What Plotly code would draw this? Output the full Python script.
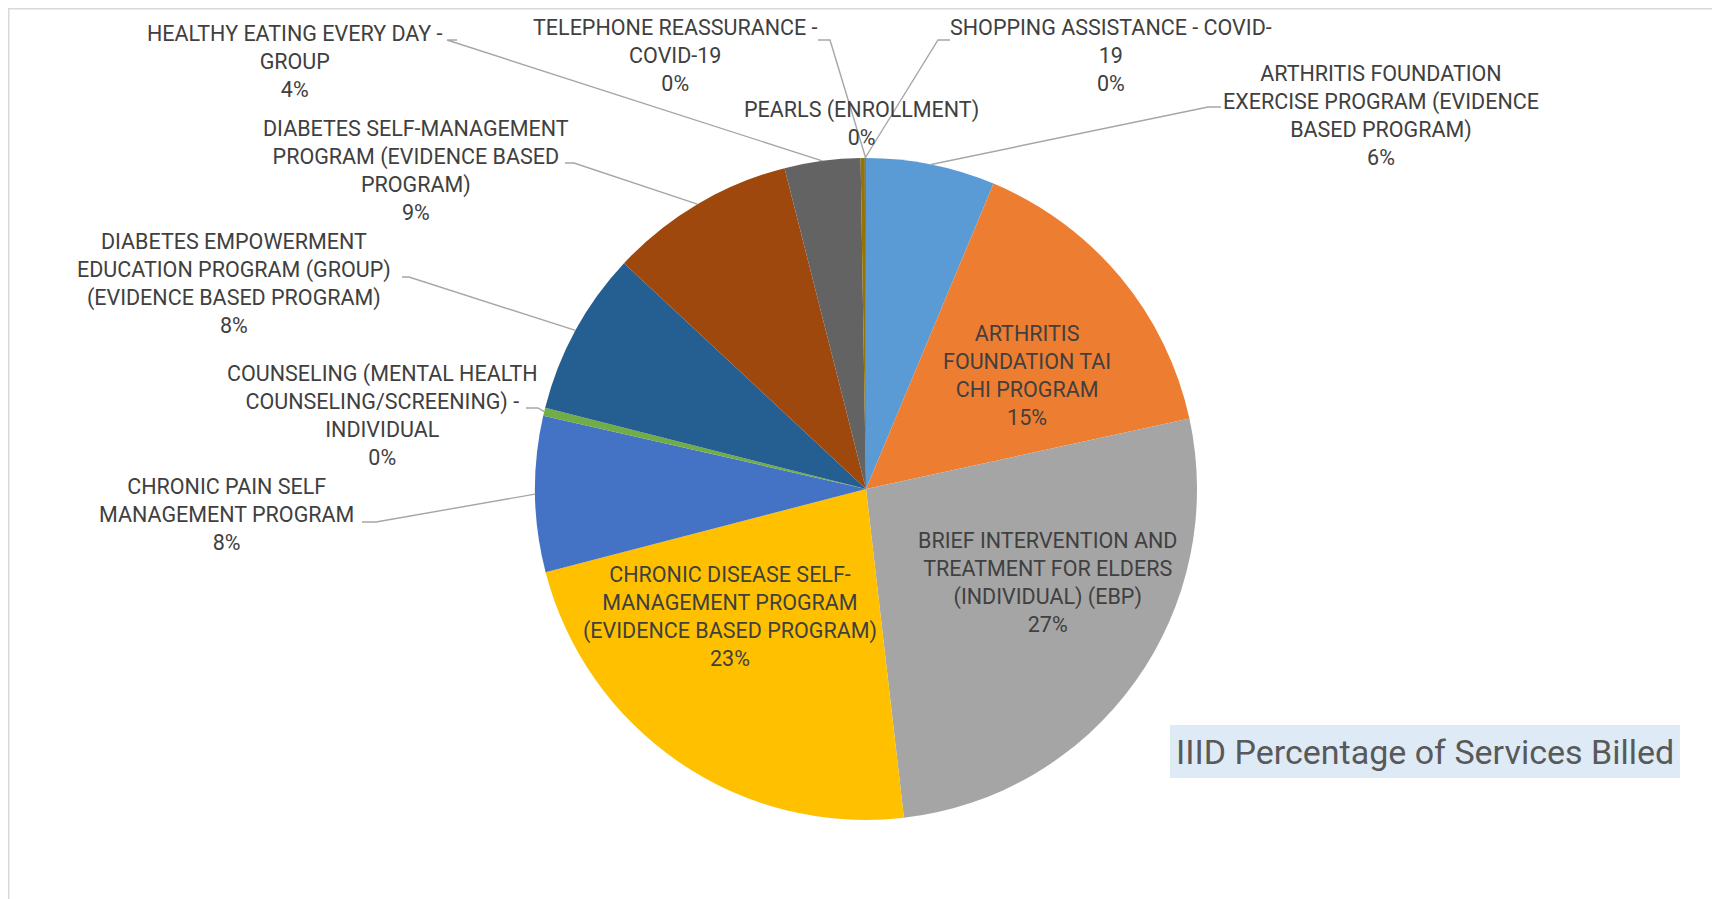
import math
import plotly.graph_objects as go

# ---------------- data ----------------
categories = [
    "ARTHRITIS FOUNDATION EXERCISE PROGRAM (EVIDENCE BASED PROGRAM)",
    "ARTHRITIS FOUNDATION TAI CHI PROGRAM",
    "BRIEF INTERVENTION AND TREATMENT FOR ELDERS (INDIVIDUAL) (EBP)",
    "CHRONIC DISEASE SELF-MANAGEMENT PROGRAM (EVIDENCE BASED PROGRAM)",
    "CHRONIC PAIN SELF MANAGEMENT PROGRAM",
    "COUNSELING (MENTAL HEALTH COUNSELING/SCREENING) - INDIVIDUAL",
    "DIABETES EMPOWERMENT EDUCATION PROGRAM (GROUP) (EVIDENCE BASED PROGRAM)",
    "DIABETES SELF-MANAGEMENT PROGRAM (EVIDENCE BASED PROGRAM)",
    "HEALTHY EATING EVERY DAY - GROUP",
    "PEARLS (ENROLLMENT)",
    "SHOPPING ASSISTANCE - COVID-19",
    "TELEPHONE REASSURANCE - COVID-19",
]
values = [6.3, 15.3, 26.6, 22.8, 7.6, 0.4, 8.0, 9.1, 3.7, 0.2, 0.03, 0.03]

# wrapped label text as shown on the chart
label_lines = [
    "ARTHRITIS FOUNDATION<br>EXERCISE PROGRAM (EVIDENCE<br>BASED PROGRAM)",
    "ARTHRITIS<br>FOUNDATION TAI<br>CHI PROGRAM",
    "BRIEF INTERVENTION AND<br>TREATMENT FOR ELDERS<br>(INDIVIDUAL) (EBP)",
    "CHRONIC DISEASE SELF-<br>MANAGEMENT PROGRAM<br>(EVIDENCE BASED PROGRAM)",
    "CHRONIC PAIN SELF<br>MANAGEMENT PROGRAM",
    "COUNSELING (MENTAL HEALTH<br>COUNSELING/SCREENING) -<br>INDIVIDUAL",
    "DIABETES EMPOWERMENT<br>EDUCATION PROGRAM (GROUP)<br>(EVIDENCE BASED PROGRAM)",
    "DIABETES SELF-MANAGEMENT<br>PROGRAM (EVIDENCE BASED<br>PROGRAM)",
    "HEALTHY EATING EVERY DAY -<br>GROUP",
    "PEARLS (ENROLLMENT)",
    "SHOPPING ASSISTANCE - COVID-<br>19",
    "TELEPHONE REASSURANCE -<br>COVID-19",
]

title_text = "IIID Percentage of Services Billed"

# ---------------- style / layout ----------------
colors = ["#5B9BD5", "#ED7D31", "#A5A5A5", "#FFC000", "#4472C4", "#70AD47",
          "#255E91", "#9E480E", "#636363", "#997300", "#264478", "#43682B"]

OFF = 8                 # page body margin; layout below is in screen px
W, H = 1720 - OFF, 899 - OFF
CX, CY, R = 866, 489, 331  # pie centre / radius in screen px
FONT = "Roboto, Arial, sans-serif"
TXT = "#404040"
LEADER = "#A6A6A6"

# label placement (screen px): text block centre, elbow point, end point
label_pos = [
    dict(c=(1381, 115), elbow=(1208, 107), end=(1221, 107)),
    dict(c=(1027, 375)),
    dict(c=(1047, 582)),
    dict(c=(730, 616)),
    dict(c=(226, 514), elbow=(376, 522), end=(362, 522)),
    dict(c=(382, 415), elbow=(538, 408), end=(526, 408)),
    dict(c=(234, 283), elbow=(409, 277), end=(402, 277)),
    dict(c=(416, 170), elbow=(574, 163), end=(565, 163)),
    dict(c=(295, 62), elbow=(447, 40), end=(457, 40)),
    dict(c=(861, 124)),
    dict(c=(1111, 56), elbow=(938, 40), end=(950, 40)),
    dict(c=(675, 56), elbow=(830, 40), end=(818, 40)),
]


def px(x, y):
    return (x - OFF) / W, 1 - (y - OFF) / H


total = sum(values)

dx0, dy0 = px(CX - R, CY + R)
dx1, dy1 = px(CX + R, CY - R)
fig = go.Figure(go.Pie(
    labels=categories,
    values=values,
    sort=False,
    direction="clockwise",
    rotation=0,
    marker=dict(colors=colors, line=dict(width=0)),
    textinfo="none",
    hoverinfo="label+percent",
    showlegend=False,
    domain=dict(x=[dx0, dx1], y=[dy0, dy1]),
))

annotations = []
shapes = []
cum = 0.0
for i, v in enumerate(values):
    frac_mid = (cum + v / 2) / total
    cum += v
    pct = v / total * 100
    text = f"{label_lines[i]}<br>{pct:.0f}%"
    pos = label_pos[i]
    ax, ay = px(*pos["c"])
    annotations.append(dict(
        x=ax, y=ay, xref="paper", yref="paper", text=text, showarrow=False,
        xanchor="center", yanchor="middle", align="center",
        font=dict(family=FONT, size=21.5, color=TXT),
    ))
    if "elbow" in pos:
        th = 2 * math.pi * frac_mid
        ex, ey = CX + R * math.sin(th), CY - R * math.cos(th)
        p0 = px(ex, ey)
        p1 = px(*pos["elbow"])
        p2 = px(*pos["end"])
        shapes.append(dict(
            type="path", xref="paper", yref="paper",
            path=f"M {p0[0]},{p0[1]} L {p1[0]},{p1[1]} L {p2[0]},{p2[1]}",
            line=dict(color=LEADER, width=1.4),
        ))

# chart border (top & left edge visible)
shapes.append(dict(type="line", xref="paper", yref="paper",
                   x0=0, y0=1 - 0.75 / H, x1=1, y1=1 - 0.75 / H,
                   line=dict(color="#D9D9D9", width=1.5)))
shapes.append(dict(type="line", xref="paper", yref="paper",
                   x0=0.75 / W, y0=1, x1=0.75 / W, y1=0,
                   line=dict(color="#D9D9D9", width=1.5)))

# title box
bx0, by0 = px(1170, 725)
bx1, by1 = px(1680, 778)
shapes.append(dict(type="rect", xref="paper", yref="paper",
                   x0=bx0, y0=by1, x1=bx1, y1=by0,
                   fillcolor="#DEEBF7", line=dict(width=0), layer="below"))
tx, ty = px(1425, 752)
annotations.append(dict(
    x=tx, y=ty, xref="paper", yref="paper", text=title_text, showarrow=False,
    xanchor="center", yanchor="middle",
    font=dict(family=FONT, size=34, color="#595959"),
))

fig.update_layout(
    width=W, height=H,
    margin=dict(l=0, r=0, t=0, b=0),
    paper_bgcolor="white", plot_bgcolor="white",
    annotations=annotations, shapes=shapes,
)

fig.write_html("out.html")
